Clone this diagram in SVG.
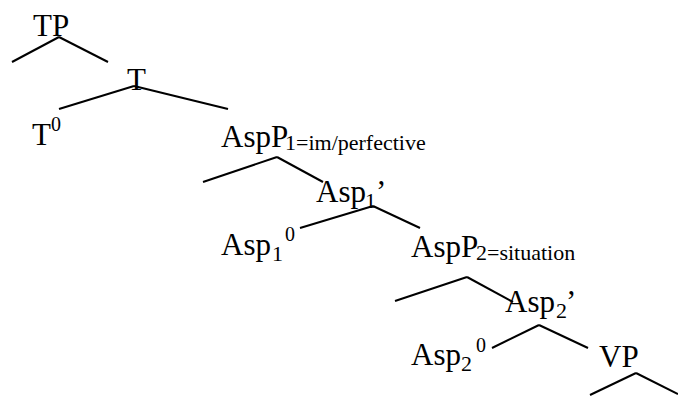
<svg xmlns="http://www.w3.org/2000/svg" width="678" height="396" viewBox="0 0 678 396">
<style>
text{font-family:"Liberation Serif","Times New Roman",serif;fill:#000;font-size:31px}
.s{font-size:22px}
.u{font-size:20px}
#edges line{stroke:#000;stroke-width:2;stroke-linecap:butt}
</style>
<rect width="678" height="396" fill="#fff"/>
<g id="edges">
<line x1="59" y1="37" x2="12" y2="62"/>
<line x1="59" y1="37" x2="108" y2="62"/>
<line x1="134" y1="86" x2="59" y2="109"/>
<line x1="134" y1="86" x2="228" y2="109"/>
<line x1="277" y1="157" x2="203" y2="182"/>
<line x1="277" y1="157" x2="323" y2="182"/>
<line x1="373" y1="206" x2="300" y2="228"/>
<line x1="373" y1="206" x2="420" y2="228"/>
<line x1="467" y1="277" x2="395" y2="301"/>
<line x1="467" y1="277" x2="513" y2="302"/>
<line x1="539" y1="325" x2="492" y2="348"/>
<line x1="539" y1="325" x2="588" y2="348"/>
<line x1="636" y1="373" x2="590" y2="395"/>
<line x1="636" y1="373" x2="678" y2="394"/>
</g>
<g id="TP"><text x="33" y="36">TP</text></g>
<g id="T"><text x="127" y="90">T</text></g>
<g id="T0"><text x="32" y="145">T<tspan class="u" x="51" y="131">0</tspan></text></g>
<g id="AspP1"><text x="221" y="147">AspP<tspan class="s" x="285" y="150">1=im/perfective</tspan></text></g>
<g id="Asp1bar"><text x="316" y="202">Asp<tspan class="s" x="365" y="208">1</tspan><tspan x="376" y="202">’</tspan></text></g>
<g id="Asp1_0"><text x="221" y="255">Asp<tspan class="s" x="272" y="261">1</tspan><tspan class="u" x="285" y="241">0</tspan></text></g>
<g id="AspP2"><text x="411" y="257">AspP<tspan class="s" x="476" y="260">2=situation</tspan></text></g>
<g id="Asp2bar"><text x="505" y="312">Asp<tspan class="s" x="556" y="318">2</tspan><tspan x="566" y="312">’</tspan></text></g>
<g id="Asp2_0"><text x="411" y="365">Asp<tspan class="s" x="461" y="371">2</tspan><tspan class="u" x="476" y="352">0</tspan></text></g>
<g id="VP"><text x="599" y="367">VP</text></g>
</svg>
